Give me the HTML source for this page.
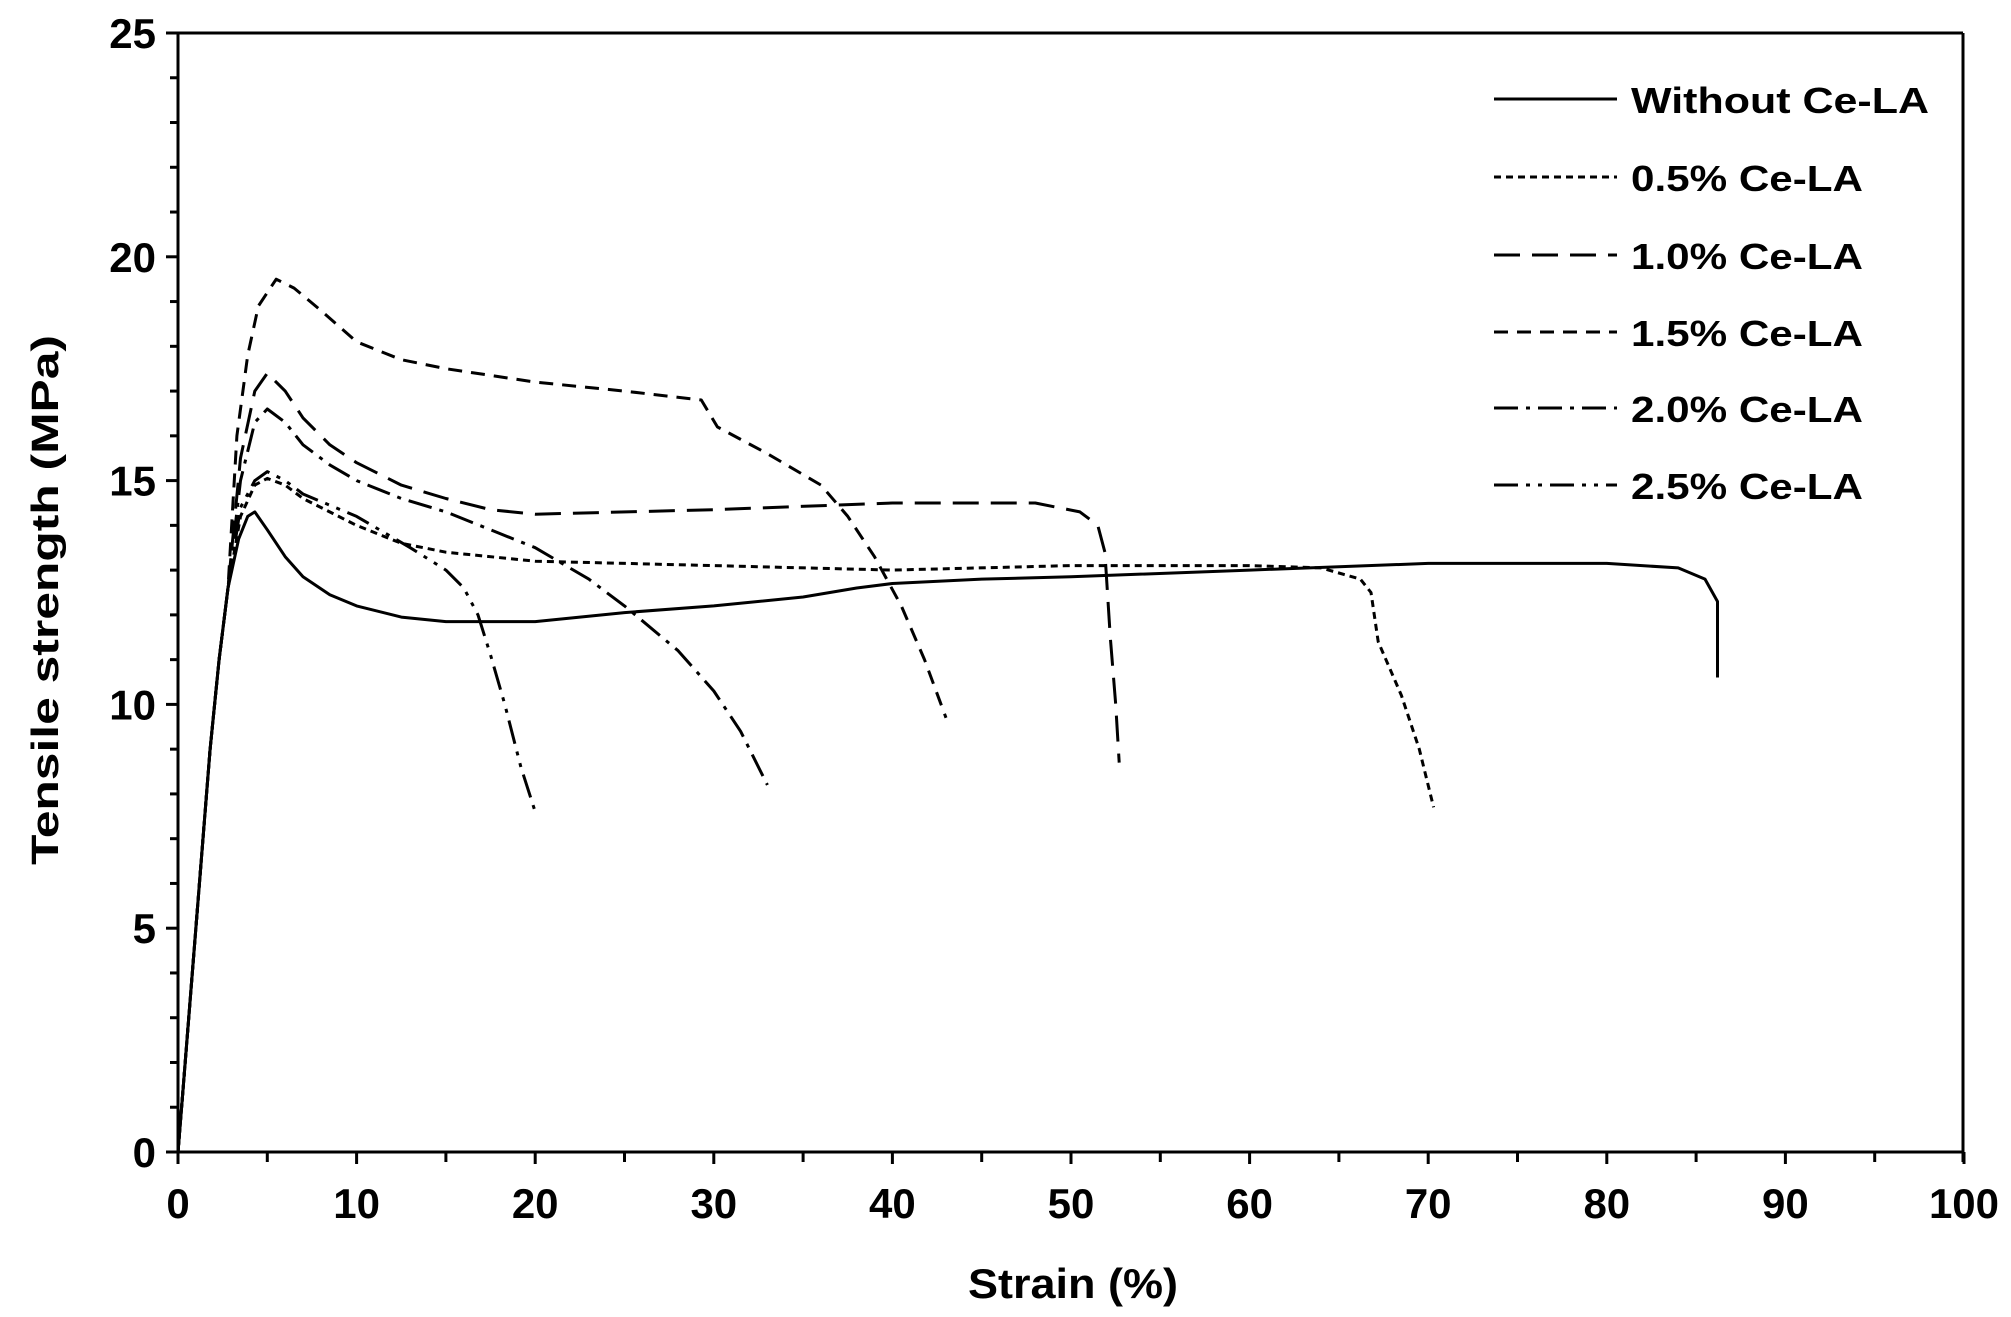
<!DOCTYPE html>
<html><head><meta charset="utf-8"><style>
html,body{margin:0;padding:0;background:#fff;}
svg{display:block;font-family:"Liberation Sans",Arial,sans-serif;}
</style></head><body>
<svg id="s" width="2011" height="1317" xmlns="http://www.w3.org/2000/svg">
<g stroke="#000" stroke-width="3" fill="none">
<line x1="178" y1="33" x2="1963" y2="33"/>
<line x1="1963" y1="33" x2="1963" y2="1162"/>
<line x1="178" y1="33" x2="178" y2="1152"/>
<line x1="166" y1="1152" x2="1963" y2="1152"/>
<g id="ticks"></g>
</g>
<g id="curves" fill="none" stroke="#000" stroke-width="3"></g>
<g font-weight="bold" font-size="42" fill="#000" id="labels"></g>
<text x="0" y="0" transform="translate(58,600) rotate(-90)" text-anchor="middle" font-size="38" font-weight="bold" textLength="530" lengthAdjust="spacingAndGlyphs">Tensile strength (MPa)</text>
<text x="1073" y="1298" text-anchor="middle" font-size="42" font-weight="bold" textLength="210" lengthAdjust="spacingAndGlyphs">Strain (%)</text>
<g id="legend" font-weight="bold" font-size="36"></g>
</svg>
<script>
var NS="http://www.w3.org/2000/svg";
function px(x){return 178+17.86*x;} function py(y){return 1152-44.76*y;}
function el(t,a,p,txt){var e=document.createElementNS(NS,t);for(var k in a)e.setAttribute(k,a[k]);if(txt!=null)e.textContent=txt;p.appendChild(e);return e;}
var T=document.getElementById('ticks'),L=document.getElementById('labels');
for(var i=0;i<=25;i++){var y=py(i);el('line',{x1:i%5==0?166:170,y1:y,x2:178,y2:y},T);}
for(var i=0;i<=25;i+=5)el('text',{x:156,y:py(i)+15,'text-anchor':'end'},L,String(i));
for(var i=0;i<=100;i+=5){var x=px(i);el('line',{x1:x,y1:1152,x2:x,y2:i%10==0?1164:1162},T);}
for(var i=0;i<=100;i+=10)el('text',{x:px(i),y:1218,'text-anchor':'middle'},L,String(i));
var C=document.getElementById('curves');
var rise=[[0,0],[0.3,1.5],[0.8,4],[1.3,6.5],[1.8,9],[2.3,11],[2.8,12.6]];
var data=[
 {d:null,p:rise.concat([[3.4,13.7],[3.9,14.2],[4.3,14.3],[5,13.9],[6,13.3],[7,12.85],[8.5,12.45],[10,12.2],[12.5,11.95],[15,11.85],[20,11.85],[25,12.05],[30,12.2],[35,12.4],[38,12.6],[40,12.7],[45,12.8],[50,12.85],[60,13.0],[70,13.15],[80,13.15],[84,13.05],[85.5,12.8],[86.2,12.3],[86.2,10.6]])},
 {d:"7 5",p:rise.concat([[3.5,14.2],[4.3,14.9],[5,15.05],[6,14.9],[7,14.6],[10,14.0],[12.5,13.6],[15,13.4],[20,13.2],[30,13.1],[40,13.0],[50,13.1],[60,13.1],[64,13.05],[66.2,12.8],[66.8,12.5],[67.2,11.4],[68.5,10.2],[69.5,9],[70.3,7.7]])},
 {d:"26 12",p:rise.concat([[3.5,15.5],[4.3,17],[5,17.4],[6,17],[7,16.4],[8.5,15.8],[10,15.4],[12.5,14.9],[15,14.6],[17.5,14.35],[20,14.25],[30,14.35],[40,14.5],[48,14.5],[50.5,14.3],[51.5,14],[51.9,13.4],[52.2,11.5],[52.5,10],[52.7,8.7]])},
 {d:"14 9",p:rise.concat([[3.3,16],[3.9,17.8],[4.5,18.9],[5.5,19.5],[6.5,19.3],[8,18.8],[10,18.1],[12.5,17.7],[15,17.5],[20,17.2],[25,17.0],[29.3,16.8],[30.2,16.2],[33,15.6],[36,14.9],[37.5,14.2],[39,13.3],[40.5,12.2],[41.8,11],[43,9.7]])},
 {d:"24 8 4 8",p:rise.concat([[3.5,15],[4.3,16.3],[5,16.6],[6,16.3],[7,15.8],[8.5,15.35],[10,15.0],[12.5,14.6],[15,14.3],[20,13.5],[23,12.8],[25,12.2],[28,11.2],[30,10.3],[31.5,9.4],[33,8.2]])},
 {d:"24 8 4 8 4 8",p:rise.concat([[3.5,14.4],[4.3,15],[5,15.2],[6,15],[7,14.7],[10,14.2],[13,13.5],[15,13.0],[16,12.6],[16.8,12],[17.5,11.1],[18.3,10],[19.2,8.6],[20,7.6]])}
];
data.forEach(function(s){var a={d:'M'+s.p.map(function(q){return px(q[0]).toFixed(1)+','+py(q[1]).toFixed(1)}).join(' L'),'stroke-linejoin':'round'};if(s.d)a['stroke-dasharray']=s.d;el('path',a,C);});
var G=document.getElementById('legend');
var names=["Without Ce-LA","0.5% Ce-LA","1.0% Ce-LA","1.5% Ce-LA","2.0% Ce-LA","2.5% Ce-LA"];
var ys=[99,177,255,332,408,485];
names.forEach(function(n,i){var a={x1:1494,y1:ys[i],x2:1617,y2:ys[i],stroke:'#000','stroke-width':3};if(data[i].d)a['stroke-dasharray']=data[i].d;el('line',a,G);
 el('text',{x:1631,y:ys[i]+14,textLength:i==0?298:232,lengthAdjust:'spacingAndGlyphs'},G,n);});
</script>
</body></html>
